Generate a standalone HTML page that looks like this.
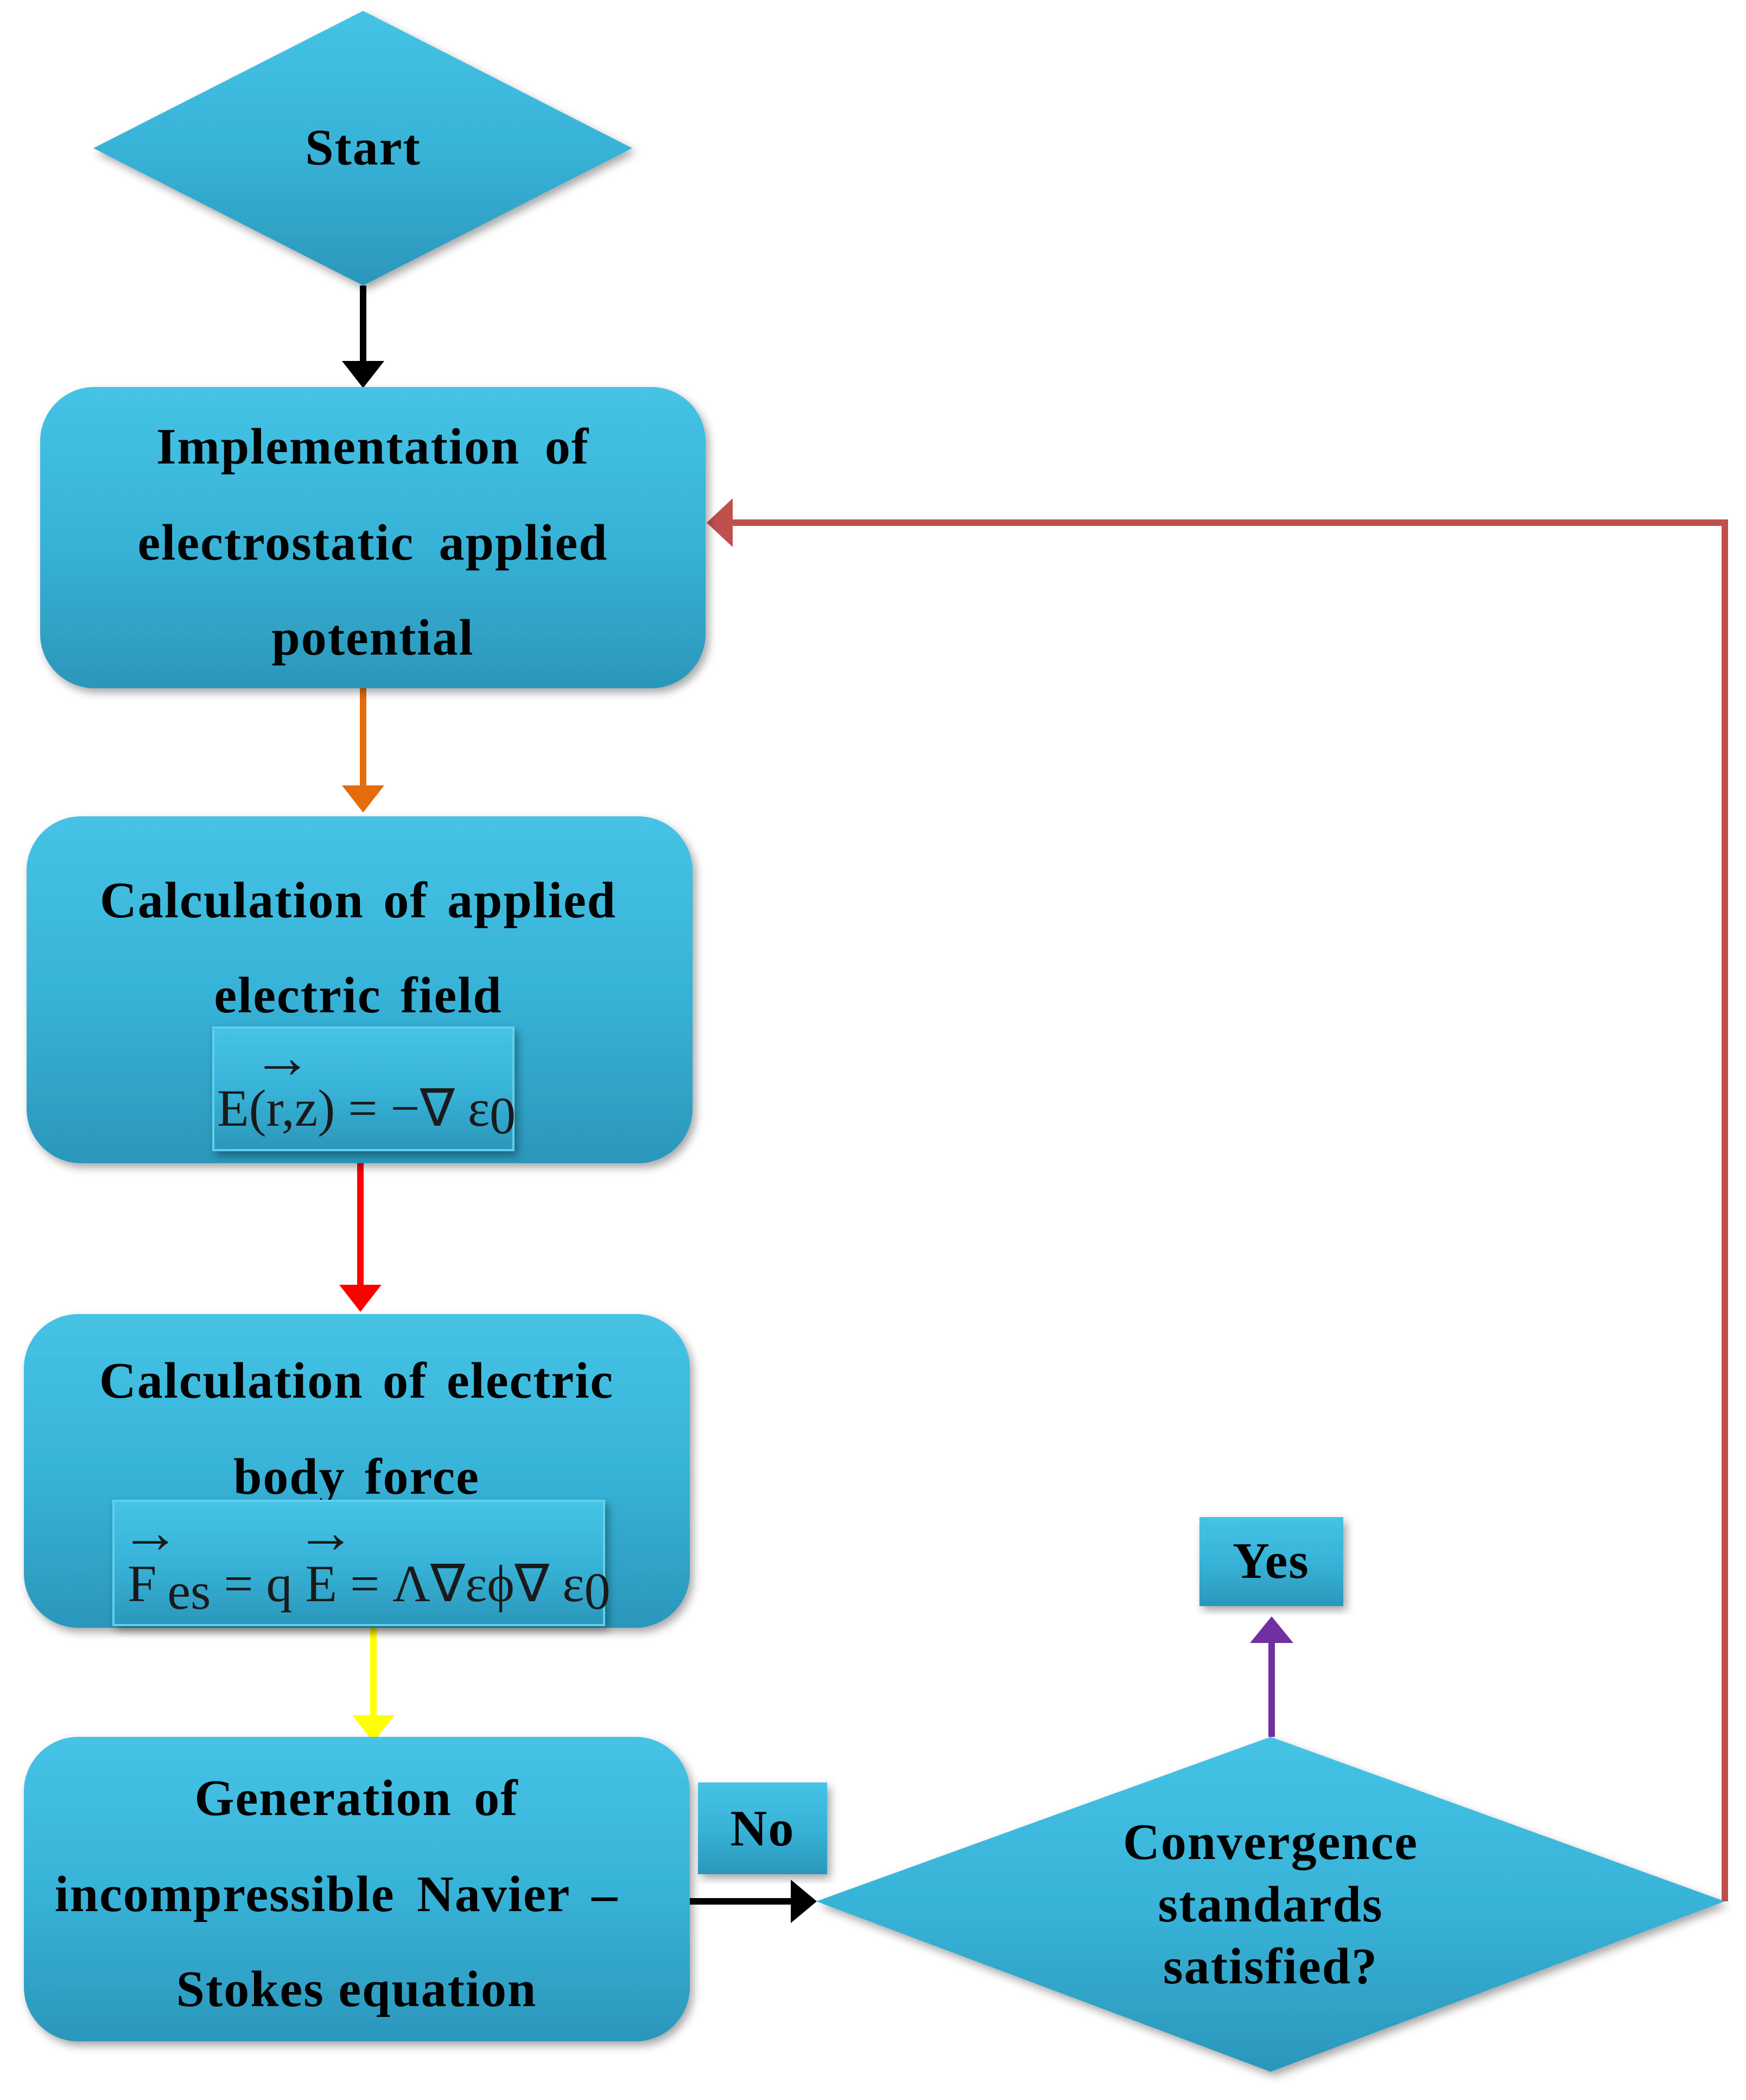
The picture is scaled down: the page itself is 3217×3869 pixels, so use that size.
<!DOCTYPE html>
<html><head><meta charset="utf-8"><style>
html,body{margin:0;padding:0;background:#fff;}
svg{display:block;}
text{font-family:"Liberation Serif",serif;}
.b{font-weight:bold;font-size:94px;fill:#000;letter-spacing:2px;}
.m{font-size:96px;fill:#1a1a1a;}
.a{font-size:110px;fill:#1a1a1a;}
</style></head><body>
<svg width="3217" height="3869" viewBox="0 0 3217 3869" xmlns="http://www.w3.org/2000/svg">
<defs>
<linearGradient id="g" x1="0" y1="0" x2="0" y2="1">
<stop offset="0" stop-color="#45c3e5"/><stop offset="0.5" stop-color="#38b3d8"/><stop offset="1" stop-color="#2b97bb"/>
</linearGradient>
<filter id="s" x="-10%" y="-10%" width="120%" height="120%"><feDropShadow dx="6" dy="8" stdDeviation="8" flood-color="#000" flood-opacity="0.35"/></filter>
</defs>
<line x1="669" y1="526" x2="669" y2="670" stroke="#000" stroke-width="12"/>
<polygon points="630,665 708,665 669,715" fill="#000"/>
<line x1="669" y1="1268" x2="669" y2="1452" stroke="#e46c0a" stroke-width="12"/>
<polygon points="630,1447 708,1447 669,1497" fill="#e46c0a"/>
<line x1="664" y1="2143" x2="664" y2="2372" stroke="#ff0000" stroke-width="12"/>
<polygon points="625,2367 703,2367 664,2417" fill="#ff0000"/>
<line x1="688" y1="2984" x2="688" y2="3165" stroke="#ffff00" stroke-width="12"/>
<polygon points="649,3160 727,3160 688,3210" fill="#ffff00"/>
<line x1="1271" y1="3503" x2="1462" y2="3503" stroke="#000" stroke-width="12"/>
<polygon points="1457,3463 1457,3543 1505,3503" fill="#000"/>
<line x1="2343" y1="3200" x2="2343" y2="3022" stroke="#7030a0" stroke-width="12"/>
<polygon points="2303,3027 2383,3027 2343,2978" fill="#7030a0"/>
<polyline points="3178,3503 3178,963 1345,963" fill="none" stroke="#c0504d" stroke-width="12"/>
<polygon points="1350,918 1350,1008 1302,963" fill="#c0504d"/>
<polygon points="669,20 1165,273 669,526 172,273" fill="url(#g)" filter="url(#s)"/>
<text class="b" x="669" y="303" text-anchor="middle">Start</text>
<rect x="74" y="713" width="1226" height="555" rx="100" fill="url(#g)" filter="url(#s)"/>
<text class="b" x="687" y="854" text-anchor="middle" word-spacing="20">Implementation of</text>
<text class="b" x="687" y="1031" text-anchor="middle" word-spacing="20">electrostatic  applied</text>
<text class="b" x="687" y="1206" text-anchor="middle">potential</text>
<rect x="49" y="1504" width="1227" height="639" rx="100" fill="url(#g)" filter="url(#s)"/>
<text class="b" x="660" y="1690" text-anchor="middle" word-spacing="10">Calculation of applied</text>
<text class="b" x="660" y="1865" text-anchor="middle" word-spacing="10">electric field</text>
<rect x="393" y="1893" width="553" height="226" fill="url(#g)" stroke="#5fd0ee" stroke-width="4" filter="url(#s)"/>
<text class="a" x="465" y="1985">→</text>
<text class="m" x="400" y="2074">E(r,z) = −∇ ε<tspan dy="14">0</tspan></text>
<rect x="44" y="2421" width="1227" height="578" rx="100" fill="url(#g)" filter="url(#s)"/>
<text class="b" x="657" y="2575" text-anchor="middle" word-spacing="10">Calculation of electric</text>
<text class="b" x="657" y="2752" text-anchor="middle" word-spacing="10">body force</text>
<rect x="209" y="2765" width="904" height="229" fill="url(#g)" stroke="#5fd0ee" stroke-width="4" filter="url(#s)"/>
<text class="a" x="222" y="2860">→</text>
<text class="a" x="545" y="2860">→</text>
<text class="m" x="235" y="2950">F<tspan dx="20" dy="14">es</tspan><tspan dy="-14"> = q E  = Λ∇εϕ∇ ε</tspan><tspan dy="14">0</tspan></text>
<rect x="44" y="3200" width="1227" height="561" rx="100" fill="url(#g)" filter="url(#s)"/>
<text class="b" x="657" y="3344" text-anchor="middle" word-spacing="15">Generation of</text>
<text class="b" x="620" y="3521" text-anchor="middle" word-spacing="15">incompressible Navier –</text>
<text class="b" x="657" y="3696" text-anchor="middle">Stokes equation</text>
<rect x="1286" y="3284" width="238" height="169" fill="url(#g)" filter="url(#s)"/>
<text class="b" x="1405" y="3400" text-anchor="middle">No</text>
<rect x="2210" y="2795" width="265" height="164" fill="url(#g)" filter="url(#s)"/>
<text class="b" x="2342" y="2907" text-anchor="middle">Yes</text>
<polygon points="2341,3200 3178,3503 2341,3817 1504,3503" fill="url(#g)" filter="url(#s)"/>
<text class="b" x="2341" y="3425" text-anchor="middle">Convergence</text>
<text class="b" x="2341" y="3540" text-anchor="middle">standards</text>
<text class="b" x="2341" y="3654" text-anchor="middle">satisfied?</text>
</svg>
</body></html>
